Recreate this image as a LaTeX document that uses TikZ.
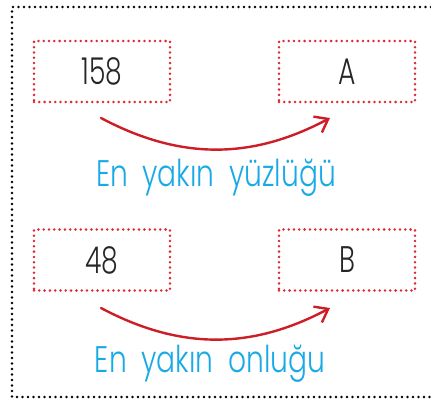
\documentclass[tikz,border=0pt]{standalone}
\usepackage{fontspec}
\setmainfont{Poppins}[UprightFont=* Light, FakeStretch=0.72]
\newfontfamily\hintfont{Poppins}[UprightFont=* Light, FakeStretch=0.76, WordSpace=1.9]
\usetikzlibrary{arrows.meta}
\definecolor{dotred}{RGB}{222,40,50}
\definecolor{arrowred}{RGB}{205,30,40}
\definecolor{textblue}{RGB}{25,170,230}
\tikzset{
  numbox/.style={draw=dotred, line width=2.8pt, line cap=round,
    dash pattern=on 0pt off 5.3pt, minimum width=136pt, minimum height=61pt,
    inner sep=0pt, text=black!85, font=\fontsize{37}{40}\selectfont},
  hint/.style={text=textblue, font=\hintfont\fontsize{37}{40}\selectfont, inner sep=0pt},
  turn/.style={draw=arrowred, line width=2.4pt, line cap=round,
    -{Straight Barb[length=12pt,width=18pt,line width=2.4pt]}, bend right=28}
}
\begin{document}
\begin{tikzpicture}[x=1pt, y=1pt]
  \useasboundingbox (0,0) rectangle (431,400);
  % outer frame, open on the right
  \draw [line width=2.8pt, line cap=round, dash pattern=on 0pt off 5.5pt]
    (431,393) -- (12,393) -- (12,3) -- (431,3);
  % first row
  \node [numbox] (n158) at (102,328.5) {158};
  \node [numbox] (nA) at (347,328.5) {A};
  \coordinate (s1) at (101,282);
  \coordinate (e1) at (330,282);
  \draw [turn] (s1) to (e1);
  \node [hint] (h1) at (216,222) {En yakın yüzlüğü};
  % second row
  \node [numbox] (n48) at (102,140) {48};
  \node [numbox] (nB) at (347,140) {B};
  \coordinate (s2) at (101,92);
  \coordinate (e2) at (330,92);
  \draw [turn] (s2) to (e2);
  \node [hint] (h2) at (210,36) {En yakın onluğu};
\end{tikzpicture}
\end{document}
